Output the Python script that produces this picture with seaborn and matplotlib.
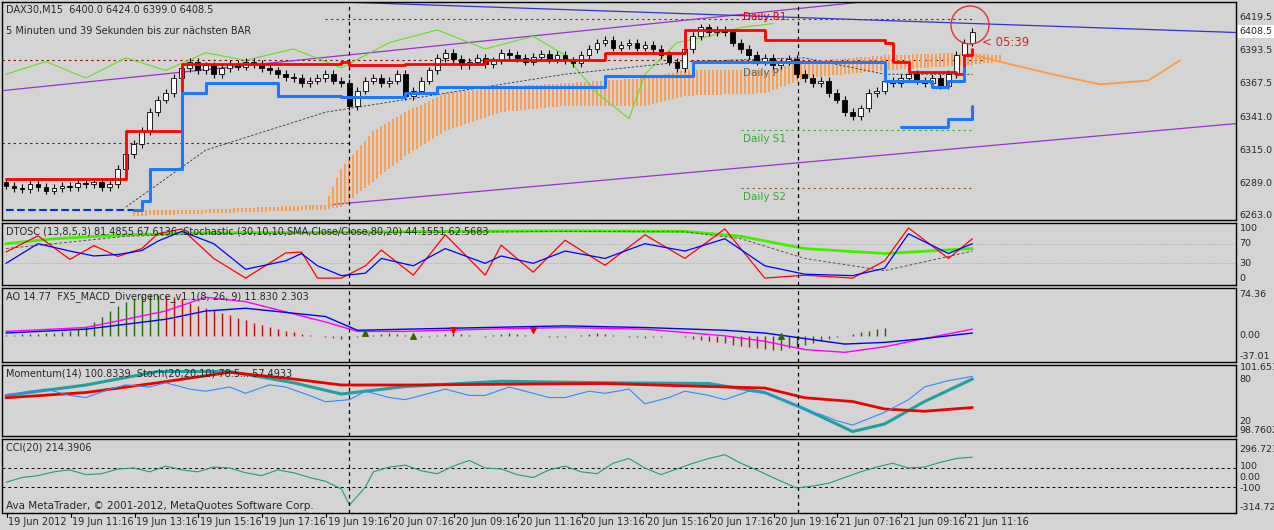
import matplotlib
matplotlib.use("Agg")
import matplotlib.pyplot as plt
import matplotlib.transforms as mtrans
import seaborn as sns
import numpy as np

# ---- Daten (aus dem Bild geschätzt) ----
closes = [6287, 6285, 6284, 6288, 6286, 6283, 6285, 6287, 6286, 6289,
          6288, 6290, 6286, 6288, 6300, 6312, 6320, 6330, 6345, 6355,
          6360, 6372, 6380, 6385, 6378, 6382, 6375, 6380, 6383, 6381,
          6385, 6383, 6380, 6378, 6375, 6373, 6372, 6368, 6370, 6372,
          6375, 6370, 6368, 6350, 6362, 6370, 6372, 6368, 6370, 6375,
          6358, 6362, 6370, 6378, 6388, 6392, 6387, 6382, 6385, 6388,
          6383, 6386, 6392, 6390, 6388, 6385, 6389, 6391, 6387, 6390,
          6386, 6384, 6390, 6395, 6400, 6402, 6396, 6398, 6400, 6396,
          6398, 6395, 6390, 6385, 6380, 6395, 6405, 6412, 6408, 6410,
          6408, 6400, 6395, 6390, 6385, 6388, 6382, 6385, 6387, 6375,
          6372, 6368, 6370, 6360, 6355, 6345, 6342, 6348, 6360, 6362,
          6370, 6368, 6372, 6375, 6370, 6368, 6372, 6366, 6375, 6390,
          6400, 6408.5]
first_open = 6290

red_x = [0, 14, 15, 22, 42, 43, 50, 60, 75, 85, 95, 100, 110, 111, 113, 119, 120, 121]
red_y = [6292, 6292, 6330, 6383, 6385, 6382, 6383, 6386, 6392, 6410, 6402, 6402, 6400, 6385, 6377, 6375, 6390, 6395]
blue_x = [0, 16, 17, 18, 22, 25, 34, 42, 50, 54, 75, 85, 86, 105, 110, 116, 118, 120]
blue_y = [6268, 6268, 6275, 6300, 6360, 6368, 6358, 6357, 6360, 6365, 6374, 6374, 6385, 6385, 6370, 6365, 6370, 6380]
blue2_x = [112, 117, 118, 121]
blue2_y = [6333, 6333, 6340, 6350]

cloud_x = [16, 25, 40, 42, 46, 50, 55, 62, 70, 80, 85, 95, 100, 110, 120, 125]
cloud_a = [6268, 6268, 6272, 6300, 6330, 6345, 6360, 6365, 6368, 6372, 6378, 6378, 6385, 6390, 6392, 6390]
cloud_b = [6263, 6265, 6268, 6270, 6290, 6310, 6330, 6345, 6350, 6350, 6358, 6360, 6372, 6378, 6382, 6385]
span_x = [120, 125, 131, 137, 143, 147]
span_y = [6392, 6384, 6375, 6367, 6370, 6386]

green_x = [0, 5, 10, 15, 20, 25, 30, 36, 42, 48, 54, 60, 66, 70, 74, 78, 80, 84, 88, 92, 96]
green_y = [6375, 6385, 6372, 6388, 6378, 6392, 6386, 6395, 6380, 6400, 6410, 6395, 6405, 6390, 6360, 6340, 6375, 6400, 6405, 6412, 6415]

ma_x = [15, 25, 40, 55, 70, 85, 100, 110, 121]
ma_y = [6270, 6315, 6345, 6360, 6375, 6385, 6388, 6375, 6375]

# DTOSC
dt_x = [0, 4, 8, 11, 14, 17, 19, 22, 26, 30, 35, 37, 39, 42, 45, 47, 51, 55, 60, 62, 66, 70, 75, 80, 85, 90, 95, 100, 106, 110, 113, 118, 121]
dt_red = [53, 86, 38, 66, 44, 60, 90, 100, 40, 0, 51, 53, 0, 0, 25, 57, 6, 88, 6, 67, 12, 77, 26, 88, 40, 100, 0, 6, 0, 35, 102, 40, 80]
dt_blue = [30, 70, 55, 45, 48, 56, 75, 95, 70, 18, 35, 50, 25, 5, 10, 40, 25, 60, 30, 45, 30, 55, 40, 70, 55, 80, 25, 8, 5, 20, 90, 50, 70]
stoch_x = [0, 6, 15, 25, 40, 55, 70, 85, 92, 100, 110, 121]
stoch_g = [70, 80, 88, 92, 93, 95, 96, 95, 85, 60, 50, 60]
stoch_k = [60, 70, 85, 90, 92, 93, 95, 94, 80, 40, 15, 55]

# AO
ao_vals = [1, 2, 3, 3, 4, 5, 5, 6, 8, 12, 18, 25, 35, 45, 55, 62, 68, 72, 74, 74, 72, 70, 66, 60, 55, 50, 46, 42, 38, 33,
           28, 24, 20, 16, 12, 9, 6, 4, 2, 0, -2, -4, -6, -4, -2, -1, 2, 4, 5, 3, 1, -1, -3, -2, 1, 3, 5, 3, 1, -1,
           -2, 1, 3, 5, 4, 2, 0, -1, -2, -3, -2, -1, 1, 3, 5, 4, 2, 0, -2, -3, -4, -3, -2, -1, 0, -2, -5, -8, -10, -12,
           -14, -16, -18, -20, -22, -24, -26, -25, -23, -20, -17, -14, -10, -6, -3, 0, 3, 6, 9, 12, 15]
macd_x = [0, 10, 20, 25, 30, 40, 44, 50, 60, 70, 80, 90, 95, 100, 105, 110, 115, 121]
macd_blue = [5, 12, 30, 45, 50, 35, 10, 12, 15, 18, 15, 10, 5, -5, -15, -12, -5, 5]
macd_mag = [8, 15, 45, 70, 62, 25, 8, 8, 12, 15, 12, 0, -10, -25, -30, -20, -5, 12]
up_arrows_x, up_arrows_y = [45, 51, 97], [5, 0, 0]
dn_arrows_x, dn_arrows_y = [56, 66], [10, 10]

# Momentum / Stoch
mom_x = [0, 10, 19, 28, 36, 42, 50, 62, 75, 88, 95, 100, 106, 110, 115, 121]
mom_teal = [58, 72, 90, 90, 75, 60, 70, 77, 75, 74, 62, 40, 10, 20, 50, 80]
mom_red = [55, 62, 75, 89, 80, 72, 72, 73, 74, 70, 68, 55, 50, 40, 37, 42]
momb_x = [0, 3, 5, 8, 10, 13, 15, 18, 20, 23, 25, 28, 30, 33, 35, 38, 40, 43, 45, 48, 50, 53, 55, 58, 60, 63, 65, 68, 70,
          73, 75, 78, 80, 83, 85, 88, 90, 93, 95, 98, 100, 102, 104, 106, 108, 110, 113, 115, 118, 121]
momb_y = [100.4, 100.6, 100.7, 100.4, 100.3, 100.7, 100.9, 100.8, 101.0, 100.7, 100.6, 100.8, 100.5, 100.9, 100.8, 100.4,
          100.1, 100.2, 100.6, 100.3, 100.2, 100.5, 100.7, 100.4, 100.4, 100.8, 100.6, 100.3, 100.3, 100.6, 100.5, 100.7,
          100.0, 100.3, 100.6, 100.4, 100.2, 100.6, 100.5, 100.1, 99.7, 99.5, 99.2, 99.0, 99.3, 99.6, 100.2, 100.8, 101.1, 101.3]

# CCI
cci_x = [0, 2, 4, 6, 8, 10, 12, 14, 16, 18, 20, 22, 24, 26, 28, 30, 32, 34, 36, 38, 40, 42, 43, 45, 46, 48, 50, 52, 54, 56,
         58, 60, 62, 64, 66, 68, 70, 72, 74, 76, 78, 80, 82, 84, 86, 88, 90, 92, 94, 96, 99, 101, 103, 105, 107, 109, 111,
         113, 115, 117, 119, 121]
cci_y = [-50, 0, 20, 60, 80, 30, 40, 90, 100, 60, 120, 80, 60, 110, 100, 50, 20, 80, 50, 0, -40, -120, -290, -100, 60, 110,
         130, 70, 40, 120, 180, 100, 90, 30, 0, 80, 120, 60, 40, 150, 200, 100, 30, 90, 150, 200, 240, 150, 80, 0, -110,
         -90, -60, 0, 60, 110, 150, 100, 110, 160, 200, 214]

times = ["19 Jun 2012", "19 Jun 11:16", "19 Jun 13:16", "19 Jun 15:16", "19 Jun 17:16", "19 Jun 19:16",
         "20 Jun 07:16", "20 Jun 09:16", "20 Jun 11:16", "20 Jun 13:16", "20 Jun 15:16", "20 Jun 17:16",
         "20 Jun 19:16", "21 Jun 07:16", "21 Jun 09:16", "21 Jun 11:16"]

# ---- Layout ----
sns.set_style("white")
plt.rcParams['font.family'] = ['DejaVu Sans']
BG = '#d4d4d4'
W, H = 1274, 530
fig = plt.figure(figsize=(W / 100, H / 100), dpi=100, facecolor=BG)

def panel(top, bot, ylim):
    ax = fig.add_axes([2 / W, 1 - bot / H, 1234 / W, (bot - top) / H])
    ax.set_facecolor(BG)
    ax.set_xlim(-0.5, 154)
    ax.set_ylim(*ylim)
    ax.set_xticks([]); ax.set_yticks([])
    for s in ax.spines.values():
        s.set_color('black'); s.set_linewidth(1)
    return ax

ax = panel(2, 220, (6259.8, 6432.1))
ax_dt = panel(223, 285, (-14, 112))
ax_ao = panel(288, 362, (-47.6, 86.8))
ax_mo = panel(365, 436, (4, 98.7))
ax_cc = panel(439, 513, (-373, 405))

def line(a, xs, ys, **kw):
    sns.lineplot(x=xs, y=ys, ax=a, estimator=None, sort=False, legend=False, **kw)

def rlabel(a, val, txt, **kw):
    a.text(1.003, val, txt, transform=mtrans.blended_transform_factory(a.transAxes, a.transData),
           fontsize=6.8, va='center', ha='left', clip_on=False, **kw)

# Hauptchart
opens = [first_open] + closes[:-1]
idx = np.arange(len(closes))
ax.axhline(6386, xmin=0, xmax=980 / 1234, color='#8b0000', ls=(0, (2, 3)), lw=0.8)
ax.plot([40, 121], [6419, 6419], color='#cc0000', ls=(0, (2, 3)), lw=0.8)
ax.plot([-0.5, 43], [6321, 6321], color='#8b0000', ls=(0, (2, 3)), lw=0.8)
ax.plot([92, 121], [6331, 6331], color='#33aa33', ls=(0, (2, 3)), lw=0.8)
ax.plot([92, 121], [6285, 6285], color='#8b5a2b', ls=(0, (2, 3)), lw=0.8)
ax.text(92.3, 6416, "Daily R1", color='#dd0000', fontsize=7.5, va='bottom')
ax.text(92.3, 6376, "Daily P", color='#666666', fontsize=7.5, va='center')
ax.text(92.3, 6328, "Daily S1", color='#33aa33', fontsize=7.5, va='top')
ax.text(92.3, 6282, "Daily S2", color='#33aa33', fontsize=7.5, va='top')

line(ax, [-0.5, 107], [6362, 6432], color='#9933cc', lw=0.9)
line(ax, [40.8, 154], [6272, 6336], color='#9933cc', lw=0.9)
line(ax, [42.6, 154], [6432, 6408], color='#3333cc', lw=0.9)

for i in range(len(cloud_x) - 1):
    for xx in np.arange(cloud_x[i], cloud_x[i + 1], 0.5):
        t = (xx - cloud_x[i]) / (cloud_x[i + 1] - cloud_x[i])
        a_ = cloud_a[i] + t * (cloud_a[i + 1] - cloud_a[i])
        b_ = cloud_b[i] + t * (cloud_b[i + 1] - cloud_b[i])
        ax.vlines(xx, b_, a_, color='#ff9944', lw=1.3)
line(ax, span_x, span_y, color='#ff9944', lw=1.3)
line(ax, green_x, green_y, color='#66dd22', lw=0.8)
line(ax, ma_x, ma_y, color='#333333', lw=0.6, dashes=(3, 2))

lo = np.minimum(opens, closes); hi = np.maximum(opens, closes)
ax.vlines(idx, lo - 3, hi + 3, color='black', lw=0.8, zorder=3)
ax.bar(idx, np.maximum(hi - lo, 0.6), bottom=lo, width=0.6,
       color=['white' if c >= o else 'black' for o, c in zip(opens, closes)],
       edgecolor='black', lw=0.6, zorder=4)
ax.step(red_x, red_y, where='post', color='red', lw=2, zorder=5)
ax.step(blue_x[:1] + blue_x[:2], blue_y[:1] + blue_y[:2], where='post', color='#0033cc', lw=1.5, ls='--', zorder=5)
line(ax, blue_x[1:], blue_y[1:], color='#1e78ff', lw=2.2, zorder=5, drawstyle='steps-post')
line(ax, blue2_x, blue2_y, color='#1e78ff', lw=2.2, zorder=5, drawstyle='steps-post')
fig.add_artist(plt.Circle((970, H - 25), 19, transform=None, fill=False, color='#dd3333', lw=1))
ax.text(122.2, 6400, "< 05:39", color='#dd2222', fontsize=8.5, va='center')
ax.text(0.003, 0.965, "DAX30,M15  6400.0 6424.0 6399.0 6408.5", transform=ax.transAxes, fontsize=7, va='center')
ax.text(0.003, 0.865, "5 Minuten und 39 Sekunden bis zur nächsten BAR", transform=ax.transAxes, fontsize=7, va='center')
for v, t in [(6419.5, "6419.5"), (6393.5, "6393.5"), (6367.5, "6367.5"), (6341.0, "6341.0"),
             (6315.0, "6315.0"), (6289.0, "6289.0"), (6263.0, "6263.0")]:
    rlabel(ax, v, t)
rlabel(ax, 6408.5, "6408.5", bbox=dict(fc='white', ec='none', pad=1.5))

# DTOSC
for v in [70, 30]:
    ax_dt.axhline(v, color='#999999', lw=0.5, ls=':')
line(ax_dt, stoch_x, stoch_g, color='#44ee00', lw=2)
line(ax_dt, stoch_x, stoch_k, color='#555555', lw=0.7, dashes=(3, 2))
line(ax_dt, dt_x, dt_red, color='red', lw=0.9)
line(ax_dt, dt_x, dt_blue, color='blue', lw=0.9)
ax_dt.text(0.003, 0.86, "DTOSC (13,8,5,3) 81.4855 67.6136  Stochastic (30,10,10,SMA,Close/Close,80,20) 44.1551 62.5683",
           transform=ax_dt.transAxes, fontsize=7, va='center')
for v in [100, 70, 30, 0]:
    rlabel(ax_dt, v, str(v))

# AO
aox = np.arange(len(ao_vals))
cols = ['#226600' if i == 0 or ao_vals[i] >= ao_vals[i - 1] else '#dd0000' for i in range(len(ao_vals))]
ax_ao.vlines(aox, 0, ao_vals, colors=cols, lw=1)
line(ax_ao, macd_x, macd_mag, color='#ff00ff', lw=1)
line(ax_ao, macd_x, macd_blue, color='#0000ee', lw=1)
ax_ao.scatter(up_arrows_x, up_arrows_y, marker='^', s=16, color='#336600', zorder=5)
ax_ao.scatter(dn_arrows_x, dn_arrows_y, marker='v', s=16, color='#ee0000', zorder=5)
ax_ao.text(0.003, 0.88, "AO 14.77  FX5_MACD_Divergence_v1.1(8, 26, 9) 11.830 2.303",
           transform=ax_ao.transAxes, fontsize=7, va='center')
for v, t in [(74.36, "74.36"), (0, "0.00"), (-37.01, "-37.01")]:
    rlabel(ax_ao, v, t)

# Momentum
line(ax_mo, mom_x, mom_teal, color='#22a0a0', lw=2.2)
line(ax_mo, mom_x, mom_red, color='#ee0000', lw=2)
ax_mo2 = ax_mo.twinx()
ax_mo2.set_ylim(98.48, 101.84); ax_mo2.axis('off')
line(ax_mo2, momb_x, momb_y, color='#3388ff', lw=0.8)
ax_mo.text(0.003, 0.88, "Momentum(14) 100.8339  Stoch(20,20,10) 78.5... 57.4933",
           transform=ax_mo.transAxes, fontsize=7, va='center')
rlabel(ax_mo, 95, "101.6519")
rlabel(ax_mo, 80, "80")
rlabel(ax_mo, 24, "20")
rlabel(ax_mo, 12, "98.7602")

# CCI
for v in [100, -100]:
    ax_cc.axhline(v, color='black', lw=0.7, ls=(0, (3, 3)))
line(ax_cc, cci_x, cci_y, color='#229988', lw=0.8)
ax_cc.text(0.003, 0.88, "CCI(20) 214.3906", transform=ax_cc.transAxes, fontsize=7, va='center')
ax_cc.text(0.003, 0.1, "Ava MetaTrader, © 2001-2012, MetaQuotes Software Corp.", transform=ax_cc.transAxes,
           fontsize=7.5, va='center')
for v, t in [(296.72, "296.721"), (115, "100"), (0, "0.00"), (-115, "-100"), (-314.7, "-314.725")]:
    rlabel(ax_cc, v, t)

# Tagestrenner
for a in [ax, ax_dt, ax_ao, ax_mo, ax_cc]:
    for d in [42.9, 99.1]:
        a.axvline(d, color='black', lw=0.9, ls=(0, (3, 3)))

# Zeitachse
tr = mtrans.blended_transform_factory(ax_cc.transData, fig.transFigure)
for k, t in enumerate(times):
    xb = 8 * k + 0.1
    ax_cc.text(xb + 0.2, 1 - 522 / H, t, transform=tr, fontsize=7, va='center', ha='left', clip_on=False)
    ax_cc.plot([xb, xb], [1 - 513 / H, 1 - 517 / H], transform=tr, color='black', lw=0.8, clip_on=False)

fig.savefig("out.png", dpi=100, facecolor=BG)
